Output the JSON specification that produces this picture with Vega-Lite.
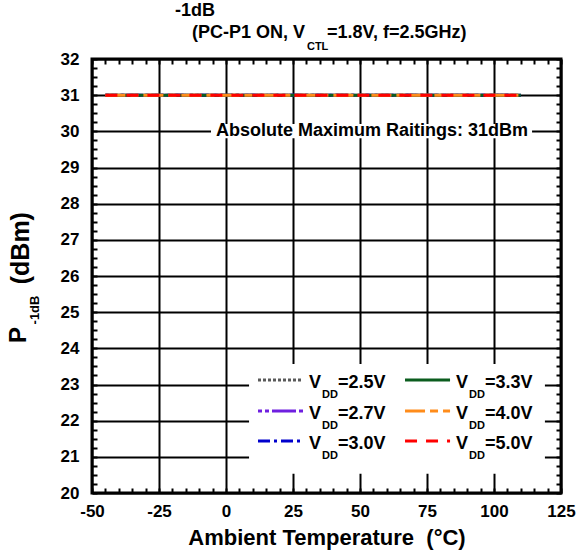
{
  "$schema": "https://vega.github.io/schema/vega-lite/v6.json",
  "width": 469,
  "height": 434,
  "autosize": "none",
  "padding": {"left": 92, "top": 59, "right": 15, "bottom": 60},
  "background": "white",
  "config": {
    "view": {"stroke": "black", "strokeWidth": 3},
    "font": "Liberation Sans",
    "axis": {
      "labelFont": "Liberation Sans",
      "labelFontWeight": "bold",
      "labelFontSize": 17,
      "labelColor": "black",
      "domain": false,
      "gridColor": "black",
      "gridWidth": 2,
      "gridOpacity": 1,
      "tickColor": "black",
      "tickOpacity": 1,
      "labelFlush": false,
      "labelOverlap": false,
      "title": null
    }
  },
  "datasets": {
    "lines": [
      {"series": "2.5", "temp": -45, "p": 31}, {"series": "2.5", "temp": -25, "p": 31}, {"series": "2.5", "temp": 0, "p": 31}, {"series": "2.5", "temp": 25, "p": 31}, {"series": "2.5", "temp": 50, "p": 31}, {"series": "2.5", "temp": 75, "p": 31}, {"series": "2.5", "temp": 100, "p": 31}, {"series": "2.5", "temp": 110, "p": 31},
      {"series": "2.7", "temp": -45, "p": 31}, {"series": "2.7", "temp": -25, "p": 31}, {"series": "2.7", "temp": 0, "p": 31}, {"series": "2.7", "temp": 25, "p": 31}, {"series": "2.7", "temp": 50, "p": 31}, {"series": "2.7", "temp": 75, "p": 31}, {"series": "2.7", "temp": 100, "p": 31}, {"series": "2.7", "temp": 110, "p": 31},
      {"series": "3.0", "temp": -45, "p": 31}, {"series": "3.0", "temp": -25, "p": 31}, {"series": "3.0", "temp": 0, "p": 31}, {"series": "3.0", "temp": 25, "p": 31}, {"series": "3.0", "temp": 50, "p": 31}, {"series": "3.0", "temp": 75, "p": 31}, {"series": "3.0", "temp": 100, "p": 31}, {"series": "3.0", "temp": 110, "p": 31},
      {"series": "3.3", "temp": -45, "p": 31}, {"series": "3.3", "temp": -25, "p": 31}, {"series": "3.3", "temp": 0, "p": 31}, {"series": "3.3", "temp": 25, "p": 31}, {"series": "3.3", "temp": 50, "p": 31}, {"series": "3.3", "temp": 75, "p": 31}, {"series": "3.3", "temp": 100, "p": 31}, {"series": "3.3", "temp": 110, "p": 31},
      {"series": "4.0", "temp": -45, "p": 31}, {"series": "4.0", "temp": -25, "p": 31}, {"series": "4.0", "temp": 0, "p": 31}, {"series": "4.0", "temp": 25, "p": 31}, {"series": "4.0", "temp": 50, "p": 31}, {"series": "4.0", "temp": 75, "p": 31}, {"series": "4.0", "temp": 100, "p": 31}, {"series": "4.0", "temp": 110, "p": 31},
      {"series": "5.0", "temp": -45, "p": 31}, {"series": "5.0", "temp": -25, "p": 31}, {"series": "5.0", "temp": 0, "p": 31}, {"series": "5.0", "temp": 25, "p": 31}, {"series": "5.0", "temp": 50, "p": 31}, {"series": "5.0", "temp": 75, "p": 31}, {"series": "5.0", "temp": 100, "p": 31}, {"series": "5.0", "temp": 110, "p": 31}
    ],
    "legend": [
      {"series": "2.5", "label": "=2.5V", "lx": 11.94, "lx2": 28.73, "ly": 23.124},
      {"series": "2.7", "label": "=2.7V", "lx": 11.94, "lx2": 28.73, "ly": 22.267},
      {"series": "3.0", "label": "=3.0V", "lx": 11.94, "lx2": 28.73, "ly": 21.438},
      {"series": "3.3", "label": "=3.3V", "lx": 66.8, "lx2": 83.6, "ly": 23.124},
      {"series": "4.0", "label": "=4.0V", "lx": 66.8, "lx2": 83.6, "ly": 22.267},
      {"series": "5.0", "label": "=5.0V", "lx": 66.8, "lx2": 83.6, "ly": 21.438}
    ],
    "one": [{}]
  },
  "resolve": {"axis": {"x": "independent", "y": "independent"}},
  "layer": [
    {
      "data": {"name": "lines"},
      "mark": {"type": "line", "strokeWidth": 3, "strokeCap": "butt"},
      "encoding": {
        "x": {"field": "temp", "type": "quantitative", "scale": {"domain": [-50, 125], "nice": false, "zero": false},
          "axis": {"orient": "bottom", "values": [-50, -25, 0, 25, 50, 75, 100, 125], "ticks": false, "grid": true, "labelPadding": 10, "zindex": 0,
            "labelExpr": "datum.value < 0 ? '-' + abs(datum.value) : '' + datum.value",
            "title": "Ambient Temperature\u00a0 (°C)", "titleFont": "Liberation Sans", "titleFontSize": 22, "titleFontWeight": "bold", "titleColor": "black", "titlePadding": 8}},
        "y": {"field": "p", "type": "quantitative", "scale": {"domain": [20, 32], "nice": false, "zero": false},
          "axis": {"orient": "left", "values": [20, 21, 22, 23, 24, 25, 26, 27, 28, 29, 30, 31, 32], "ticks": false, "grid": true, "labelPadding": 13, "zindex": 0}},
        "color": {"field": "series", "type": "nominal", "legend": null,
          "scale": {"domain": ["2.5", "2.7", "3.0", "3.3", "4.0", "5.0"], "range": ["#5a5a5a", "#6f1fe0", "#0000cd", "#0b5d1e", "#ff8c1a", "#ff0000"]}},
        "strokeDash": {"field": "series", "type": "nominal", "legend": null,
          "scale": {"domain": ["2.5", "2.7", "3.0", "3.3", "4.0", "5.0"], "range": [[3, 2], [4, 3, 4, 3, 24, 3], [12, 4, 3, 4], [1, 0], [20, 5, 8, 5], [12, 9]]}},
        "order": {"field": "series", "type": "nominal"}
      }
    },
    {
      "data": {"name": "one"},
      "mark": {"type": "rect", "fill": "white"},
      "encoding": {
        "x": {"datum": -5.6, "type": "quantitative", "scale": {"domain": [-50, 125], "nice": false, "zero": false}, "axis": null},
        "x2": {"datum": 114.2},
        "y": {"datum": 29.81, "type": "quantitative", "scale": {"domain": [20, 32], "nice": false, "zero": false}, "axis": null},
        "y2": {"datum": 30.2}
      }
    },
    {
      "data": {"name": "one"},
      "mark": {"type": "text", "text": "Absolute Maximum Raitings: 31dBm", "font": "Liberation Sans", "fontWeight": "bold", "fontSize": 18, "align": "center", "baseline": "middle", "color": "black"},
      "encoding": {
        "x": {"datum": 54.5, "type": "quantitative", "scale": {"domain": [-50, 125], "nice": false, "zero": false}, "axis": null},
        "y": {"datum": 30.0, "type": "quantitative", "scale": {"domain": [20, 32], "nice": false, "zero": false}, "axis": null}
      }
    },
    {
      "data": {"name": "one"},
      "mark": {"type": "rect", "fill": "white"},
      "encoding": {
        "x": {"datum": 8.6, "type": "quantitative", "scale": {"domain": [-50, 125], "nice": false, "zero": false}, "axis": null},
        "x2": {"datum": 119.0},
        "y": {"datum": 20.53, "type": "quantitative", "scale": {"domain": [20, 32], "nice": false, "zero": false}, "axis": null},
        "y2": {"datum": 23.57}
      }
    },
    {
      "data": {"name": "legend"},
      "mark": {"type": "rule", "strokeWidth": 3, "strokeCap": "butt"},
      "encoding": {
        "x": {"field": "lx", "type": "quantitative", "scale": {"domain": [-50, 125], "nice": false, "zero": false},
          "axis": {"orient": "bottom", "values": [-50, -45, -40, -35, -30, -25, -20, -15, -10, -5, 0, 5, 10, 15, 20, 25, 30, 35, 40, 45, 50, 55, 60, 65, 70, 75, 80, 85, 90, 95, 100, 105, 110, 115, 120, 125], "ticks": true, "tickSize": -5, "tickWidth": 2, "labels": false, "grid": false, "zindex": 1}},
        "x2": {"field": "lx2"},
        "y": {"field": "ly", "type": "quantitative", "scale": {"domain": [20, 32], "nice": false, "zero": false},
          "axis": {"orient": "left", "values": [20, 20.25, 20.5, 20.75, 21, 21.25, 21.5, 21.75, 22, 22.25, 22.5, 22.75, 23, 23.25, 23.5, 23.75, 24, 24.25, 24.5, 24.75, 25, 25.25, 25.5, 25.75, 26, 26.25, 26.5, 26.75, 27, 27.25, 27.5, 27.75, 28, 28.25, 28.5, 28.75, 29, 29.25, 29.5, 29.75, 30, 30.25, 30.5, 30.75, 31, 31.25, 31.5, 31.75, 32], "ticks": true, "tickSize": -5, "tickWidth": 2, "labels": false, "grid": false, "zindex": 1}},
        "color": {"field": "series", "type": "nominal", "legend": null,
          "scale": {"domain": ["2.5", "2.7", "3.0", "3.3", "4.0", "5.0"], "range": ["#5a5a5a", "#6f1fe0", "#0000cd", "#0b5d1e", "#ff8c1a", "#ff0000"]}},
        "strokeDash": {"field": "series", "type": "nominal", "legend": null,
          "scale": {"domain": ["2.5", "2.7", "3.0", "3.3", "4.0", "5.0"], "range": [[3, 2], [4, 3, 4, 3, 24, 3], [12, 4, 3, 4], [1, 0], [20, 5, 8, 5], [12, 9]]}}
      }
    },
    {
      "data": {"name": "legend"},
      "mark": {"type": "text", "text": "V", "font": "Liberation Sans", "fontWeight": "bold", "fontSize": 18, "align": "left", "baseline": "alphabetic", "dx": 6, "dy": 8, "color": "black"},
      "encoding": {
        "x": {"field": "lx2", "type": "quantitative", "scale": {"domain": [-50, 125], "nice": false, "zero": false},
          "axis": {"orient": "top", "values": [-50, -45, -40, -35, -30, -25, -20, -15, -10, -5, 0, 5, 10, 15, 20, 25, 30, 35, 40, 45, 50, 55, 60, 65, 70, 75, 80, 85, 90, 95, 100, 105, 110, 115, 120, 125], "ticks": true, "tickSize": -5, "tickWidth": 2, "labels": false, "grid": false, "zindex": 1}},
        "y": {"field": "ly", "type": "quantitative", "scale": {"domain": [20, 32], "nice": false, "zero": false},
          "axis": {"orient": "right", "values": [20, 20.25, 20.5, 20.75, 21, 21.25, 21.5, 21.75, 22, 22.25, 22.5, 22.75, 23, 23.25, 23.5, 23.75, 24, 24.25, 24.5, 24.75, 25, 25.25, 25.5, 25.75, 26, 26.25, 26.5, 26.75, 27, 27.25, 27.5, 27.75, 28, 28.25, 28.5, 28.75, 29, 29.25, 29.5, 29.75, 30, 30.25, 30.5, 30.75, 31, 31.25, 31.5, 31.75, 32], "ticks": true, "tickSize": -5, "tickWidth": 2, "labels": false, "grid": false, "zindex": 1}}
      }
    },
    {
      "data": {"name": "legend"},
      "mark": {"type": "text", "text": "DD", "font": "Liberation Sans", "fontWeight": "bold", "fontSize": 11, "align": "left", "baseline": "alphabetic", "dx": 19, "dy": 18, "color": "black"},
      "encoding": {
        "x": {"field": "lx2", "type": "quantitative", "scale": {"domain": [-50, 125], "nice": false, "zero": false}, "axis": null},
        "y": {"field": "ly", "type": "quantitative", "scale": {"domain": [20, 32], "nice": false, "zero": false}, "axis": null}
      }
    },
    {
      "data": {"name": "legend"},
      "mark": {"type": "text", "font": "Liberation Sans", "fontWeight": "bold", "fontSize": 18, "align": "left", "baseline": "alphabetic", "dx": 35, "dy": 8, "color": "black"},
      "encoding": {
        "x": {"field": "lx2", "type": "quantitative", "scale": {"domain": [-50, 125], "nice": false, "zero": false}, "axis": null},
        "y": {"field": "ly", "type": "quantitative", "scale": {"domain": [20, 32], "nice": false, "zero": false}, "axis": null},
        "text": {"field": "label"}
      }
    },
    {
      "data": {"name": "one"},
      "mark": {"type": "text", "text": "-1dB", "font": "Liberation Sans", "fontWeight": "bold", "fontSize": 18, "align": "center", "baseline": "alphabetic", "color": "black"},
      "encoding": {
        "x": {"datum": -11.57, "type": "quantitative", "scale": {"domain": [-50, 125], "nice": false, "zero": false}, "axis": null},
        "y": {"datum": 33.2, "type": "quantitative", "scale": {"domain": [20, 32], "nice": false, "zero": false}, "axis": null}
      }
    },
    {
      "data": {"name": "one"},
      "mark": {"type": "text", "text": "(PC-P1 ON, V", "font": "Liberation Sans", "fontWeight": "bold", "fontSize": 18, "align": "left", "baseline": "alphabetic", "color": "black"},
      "encoding": {
        "x": {"datum": -12.69, "type": "quantitative", "scale": {"domain": [-50, 125], "nice": false, "zero": false}, "axis": null},
        "y": {"datum": 32.58, "type": "quantitative", "scale": {"domain": [20, 32], "nice": false, "zero": false}, "axis": null}
      }
    },
    {
      "data": {"name": "one"},
      "mark": {"type": "text", "text": "CTL", "font": "Liberation Sans", "fontWeight": "bold", "fontSize": 11, "align": "left", "baseline": "alphabetic", "color": "black"},
      "encoding": {
        "x": {"datum": 30.2, "type": "quantitative", "scale": {"domain": [-50, 125], "nice": false, "zero": false}, "axis": null},
        "y": {"datum": 32.25, "type": "quantitative", "scale": {"domain": [20, 32], "nice": false, "zero": false}, "axis": null}
      }
    },
    {
      "data": {"name": "one"},
      "mark": {"type": "text", "text": "=1.8V, f=2.5GHz)", "font": "Liberation Sans", "fontWeight": "bold", "fontSize": 18, "align": "left", "baseline": "alphabetic", "color": "black"},
      "encoding": {
        "x": {"datum": 37.69, "type": "quantitative", "scale": {"domain": [-50, 125], "nice": false, "zero": false}, "axis": null},
        "y": {"datum": 32.58, "type": "quantitative", "scale": {"domain": [20, 32], "nice": false, "zero": false}, "axis": null}
      }
    },
    {
      "data": {"name": "one"},
      "mark": {"type": "text", "text": "P", "font": "Liberation Sans", "fontWeight": "bold", "fontSize": 24, "align": "center", "baseline": "middle", "angle": 270, "color": "black"},
      "encoding": {
        "x": {"datum": -77.3, "type": "quantitative", "scale": {"domain": [-50, 125], "nice": false, "zero": false}, "axis": null},
        "y": {"datum": 24.37, "type": "quantitative", "scale": {"domain": [20, 32], "nice": false, "zero": false}, "axis": null}
      }
    },
    {
      "data": {"name": "one"},
      "mark": {"type": "text", "text": "-1dB", "font": "Liberation Sans", "fontWeight": "bold", "fontSize": 13, "align": "center", "baseline": "middle", "angle": 270, "color": "black"},
      "encoding": {
        "x": {"datum": -71.3, "type": "quantitative", "scale": {"domain": [-50, 125], "nice": false, "zero": false}, "axis": null},
        "y": {"datum": 25.06, "type": "quantitative", "scale": {"domain": [20, 32], "nice": false, "zero": false}, "axis": null}
      }
    },
    {
      "data": {"name": "one"},
      "mark": {"type": "text", "text": "(dBm)", "font": "Liberation Sans", "fontWeight": "bold", "fontSize": 25, "align": "center", "baseline": "middle", "angle": 270, "color": "black"},
      "encoding": {
        "x": {"datum": -76.49, "type": "quantitative", "scale": {"domain": [-50, 125], "nice": false, "zero": false}, "axis": null},
        "y": {"datum": 26.77, "type": "quantitative", "scale": {"domain": [20, 32], "nice": false, "zero": false}, "axis": null}
      }
    }
  ]
}
